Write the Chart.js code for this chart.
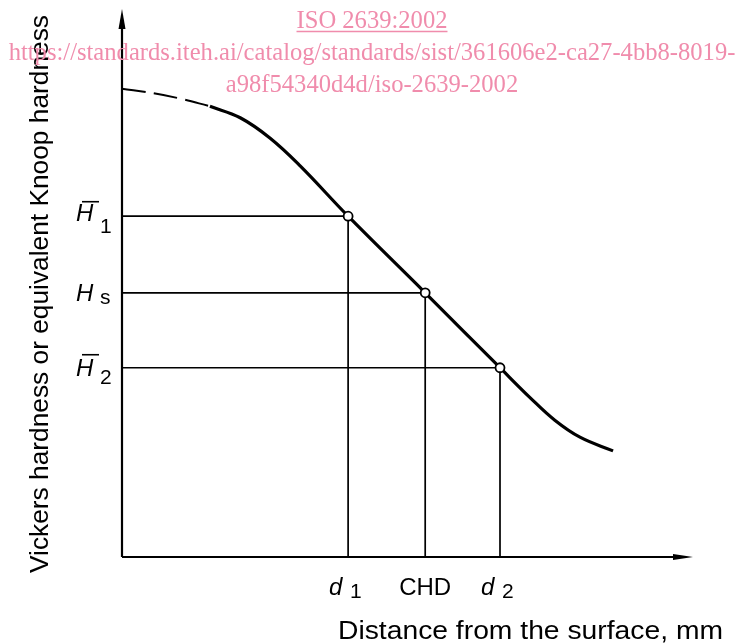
<!DOCTYPE html>
<html><head><meta charset="utf-8">
<script src="https://cdn.jsdelivr.net/npm/chart.js@4"></script>
<style>html,body{margin:0;padding:0;background:#fff}canvas{display:block}</style>
</head><body>
<canvas id="c" width="738" height="643"></canvas>
<script>
// ---- data ----
const dashedX = [0, 5.4, 10.2, 15.4];
const dashedY = [85.6, 84.8, 83.8, 82.4];
const curveX = [15.4, 20.7, 25.9, 31.2, 39.6, 53.1, 66.2, 71.5, 75.8, 80.2, 86.0];
const curveY = [82.4, 80.3, 76.6, 71.5, 62.3, 48.3, 34.6, 29.1, 25.0, 21.9, 19.4];
const markX = [39.6, 53.1, 66.2];
const markY = [62.3, 48.3, 34.6];
const yTickMain = ['H', 'H', 'H'];
const yTickSub = ['1', 's', '2'];
const yTickBar = [true, false, true];
const xTickMain = ['d', 'CHD', 'd'];
const xTickSub = ['1', '', '2'];
const xTickItalic = [true, false, true];
const xTitle = 'Distance from the surface, mm';
const yTitle = 'Vickers hardness or equivalent Knoop hardness';
const watermark = ['ISO 2639:2002', 'https://standards.iteh.ai/catalog/standards/sist/361606e2-ca27-4bb8-8019-', 'a98f54340d4d/iso-2639-2002'];

const pts = (xs, ys) => xs.map((x, i) => ({x, y: ys[i]}));
const guides = markX.map((x, i) => ({
  data: [{x: 0, y: markY[i]}, {x: x, y: markY[i]}, {x: x, y: 0}],
  borderColor: '#000', borderWidth: 1.7, pointRadius: 0, tension: 0, order: 3
}));

function txt(ctx, s, x, y, font, sx) {
  ctx.save(); ctx.font = font; ctx.translate(x, y); ctx.scale(sx, 1);
  ctx.textAlign = 'left'; ctx.textBaseline = 'alphabetic'; ctx.fillText(s, 0, 0); ctx.restore();
}

const deco = {
  id: 'deco',
  beforeDatasetsDraw(chart) {
    const ctx = chart.ctx, a = chart.chartArea;
    ctx.save();
    ctx.strokeStyle = '#000'; ctx.fillStyle = '#000'; ctx.lineWidth = 2.2;
    ctx.beginPath(); ctx.moveTo(a.left, a.bottom); ctx.lineTo(a.left, a.top + 14);
    ctx.moveTo(a.left, a.bottom); ctx.lineTo(a.right - 14, a.bottom); ctx.stroke();
    ctx.beginPath(); ctx.moveTo(a.left, a.top - 1); ctx.lineTo(a.left - 3.5, a.top + 19); ctx.lineTo(a.left + 3.5, a.top + 19); ctx.closePath(); ctx.fill();
    ctx.beginPath(); ctx.moveTo(a.right, a.bottom); ctx.lineTo(a.right - 20, a.bottom - 3); ctx.lineTo(a.right - 20, a.bottom + 3); ctx.closePath(); ctx.fill();
    ctx.restore();
  },
  afterDraw(chart) {
    const ctx = chart.ctx, xs = chart.scales.x, ys = chart.scales.y;
    ctx.save();
    ctx.fillStyle = '#000'; ctx.strokeStyle = '#000';
    // y tick labels
    const mainOff = [5, 8.5, 8.5], subOff = [17, 11, 16], barOff = [-14.5, 0, -13];
    markY.forEach((v, i) => {
      const py = ys.getPixelForValue(v);
      txt(ctx, yTickMain[i], 76, py + mainOff[i], 'italic 24px "Liberation Sans"', 1);
      txt(ctx, yTickSub[i], 100, py + subOff[i], '21px "Liberation Sans"', 1);
      if (yTickBar[i]) {
        ctx.lineWidth = 1.6; ctx.beginPath();
        ctx.moveTo(82, py + barOff[i]); ctx.lineTo(99, py + barOff[i]); ctx.stroke();
      }
    });
    // x tick labels
    markX.forEach((v, i) => {
      const px = xs.getPixelForValue(v);
      if (xTickSub[i]) {
        txt(ctx, xTickMain[i], px - 19, 595, (xTickItalic[i] ? 'italic ' : '') + '24px "Liberation Sans"', 1);
        txt(ctx, xTickSub[i], px + 2, 598, '21px "Liberation Sans"', 1);
      } else {
        ctx.save(); ctx.font = '24px "Liberation Sans"'; const w = ctx.measureText(xTickMain[i]).width; ctx.restore();
        txt(ctx, xTickMain[i], px - w / 2, 595, '24px "Liberation Sans"', 1);
      }
    });
    // axis titles
    ctx.font = '25px "Liberation Sans"';
    const wx = ctx.measureText(xTitle).width;
    txt(ctx, xTitle, 338, 639, '25px "Liberation Sans"', 385 / wx);
    ctx.save();
    ctx.font = '25px "Liberation Sans"';
    const wy = ctx.measureText(yTitle).width;
    ctx.translate(48, 573); ctx.rotate(-Math.PI / 2); ctx.scale(558 / wy, 1);
    ctx.textAlign = 'left'; ctx.textBaseline = 'alphabetic'; ctx.fillText(yTitle, 0, 0);
    ctx.restore();
    // watermark
    ctx.fillStyle = '#f08cac'; ctx.strokeStyle = '#f08cac';
    ctx.font = '24.6px "Liberation Serif"'; ctx.textAlign = 'center'; ctx.textBaseline = 'alphabetic';
    const base = [28, 60, 92];
    watermark.forEach((s, i) => ctx.fillText(s, 372, base[i]));
    const w0 = ctx.measureText(watermark[0]).width;
    ctx.lineWidth = 1.5; ctx.beginPath(); ctx.moveTo(372 - w0 / 2, 31.5); ctx.lineTo(372 + w0 / 2, 31.5); ctx.stroke();
    ctx.restore();
  }
};

new Chart(document.getElementById('c'), {
  type: 'line',
  data: {
    datasets: [
      {data: pts(dashedX, dashedY), borderColor: '#000', borderWidth: 2, borderDash: [24, 8], pointRadius: 0, tension: 0.4, order: 2},
      {data: pts(curveX, curveY), borderColor: '#000', borderWidth: 3.2, pointRadius: 0, tension: 0.4, order: 2},
      ...guides,
      {data: pts(markX, markY), showLine: false, pointRadius: 4.5, pointBorderWidth: 1.8, pointBackgroundColor: '#fff', pointBorderColor: '#000', order: 0}
    ]
  },
  options: {
    responsive: false, animation: false,
    layout: {padding: {left: 122, right: 45, top: 10, bottom: 86}},
    scales: {
      x: {type: 'linear', min: 0, max: 100, display: false},
      y: {type: 'linear', min: 0, max: 100, display: false}
    },
    plugins: {legend: {display: false}, tooltip: {enabled: false}},
    clip: false
  },
  plugins: [deco]
});
</script>
</body></html>
